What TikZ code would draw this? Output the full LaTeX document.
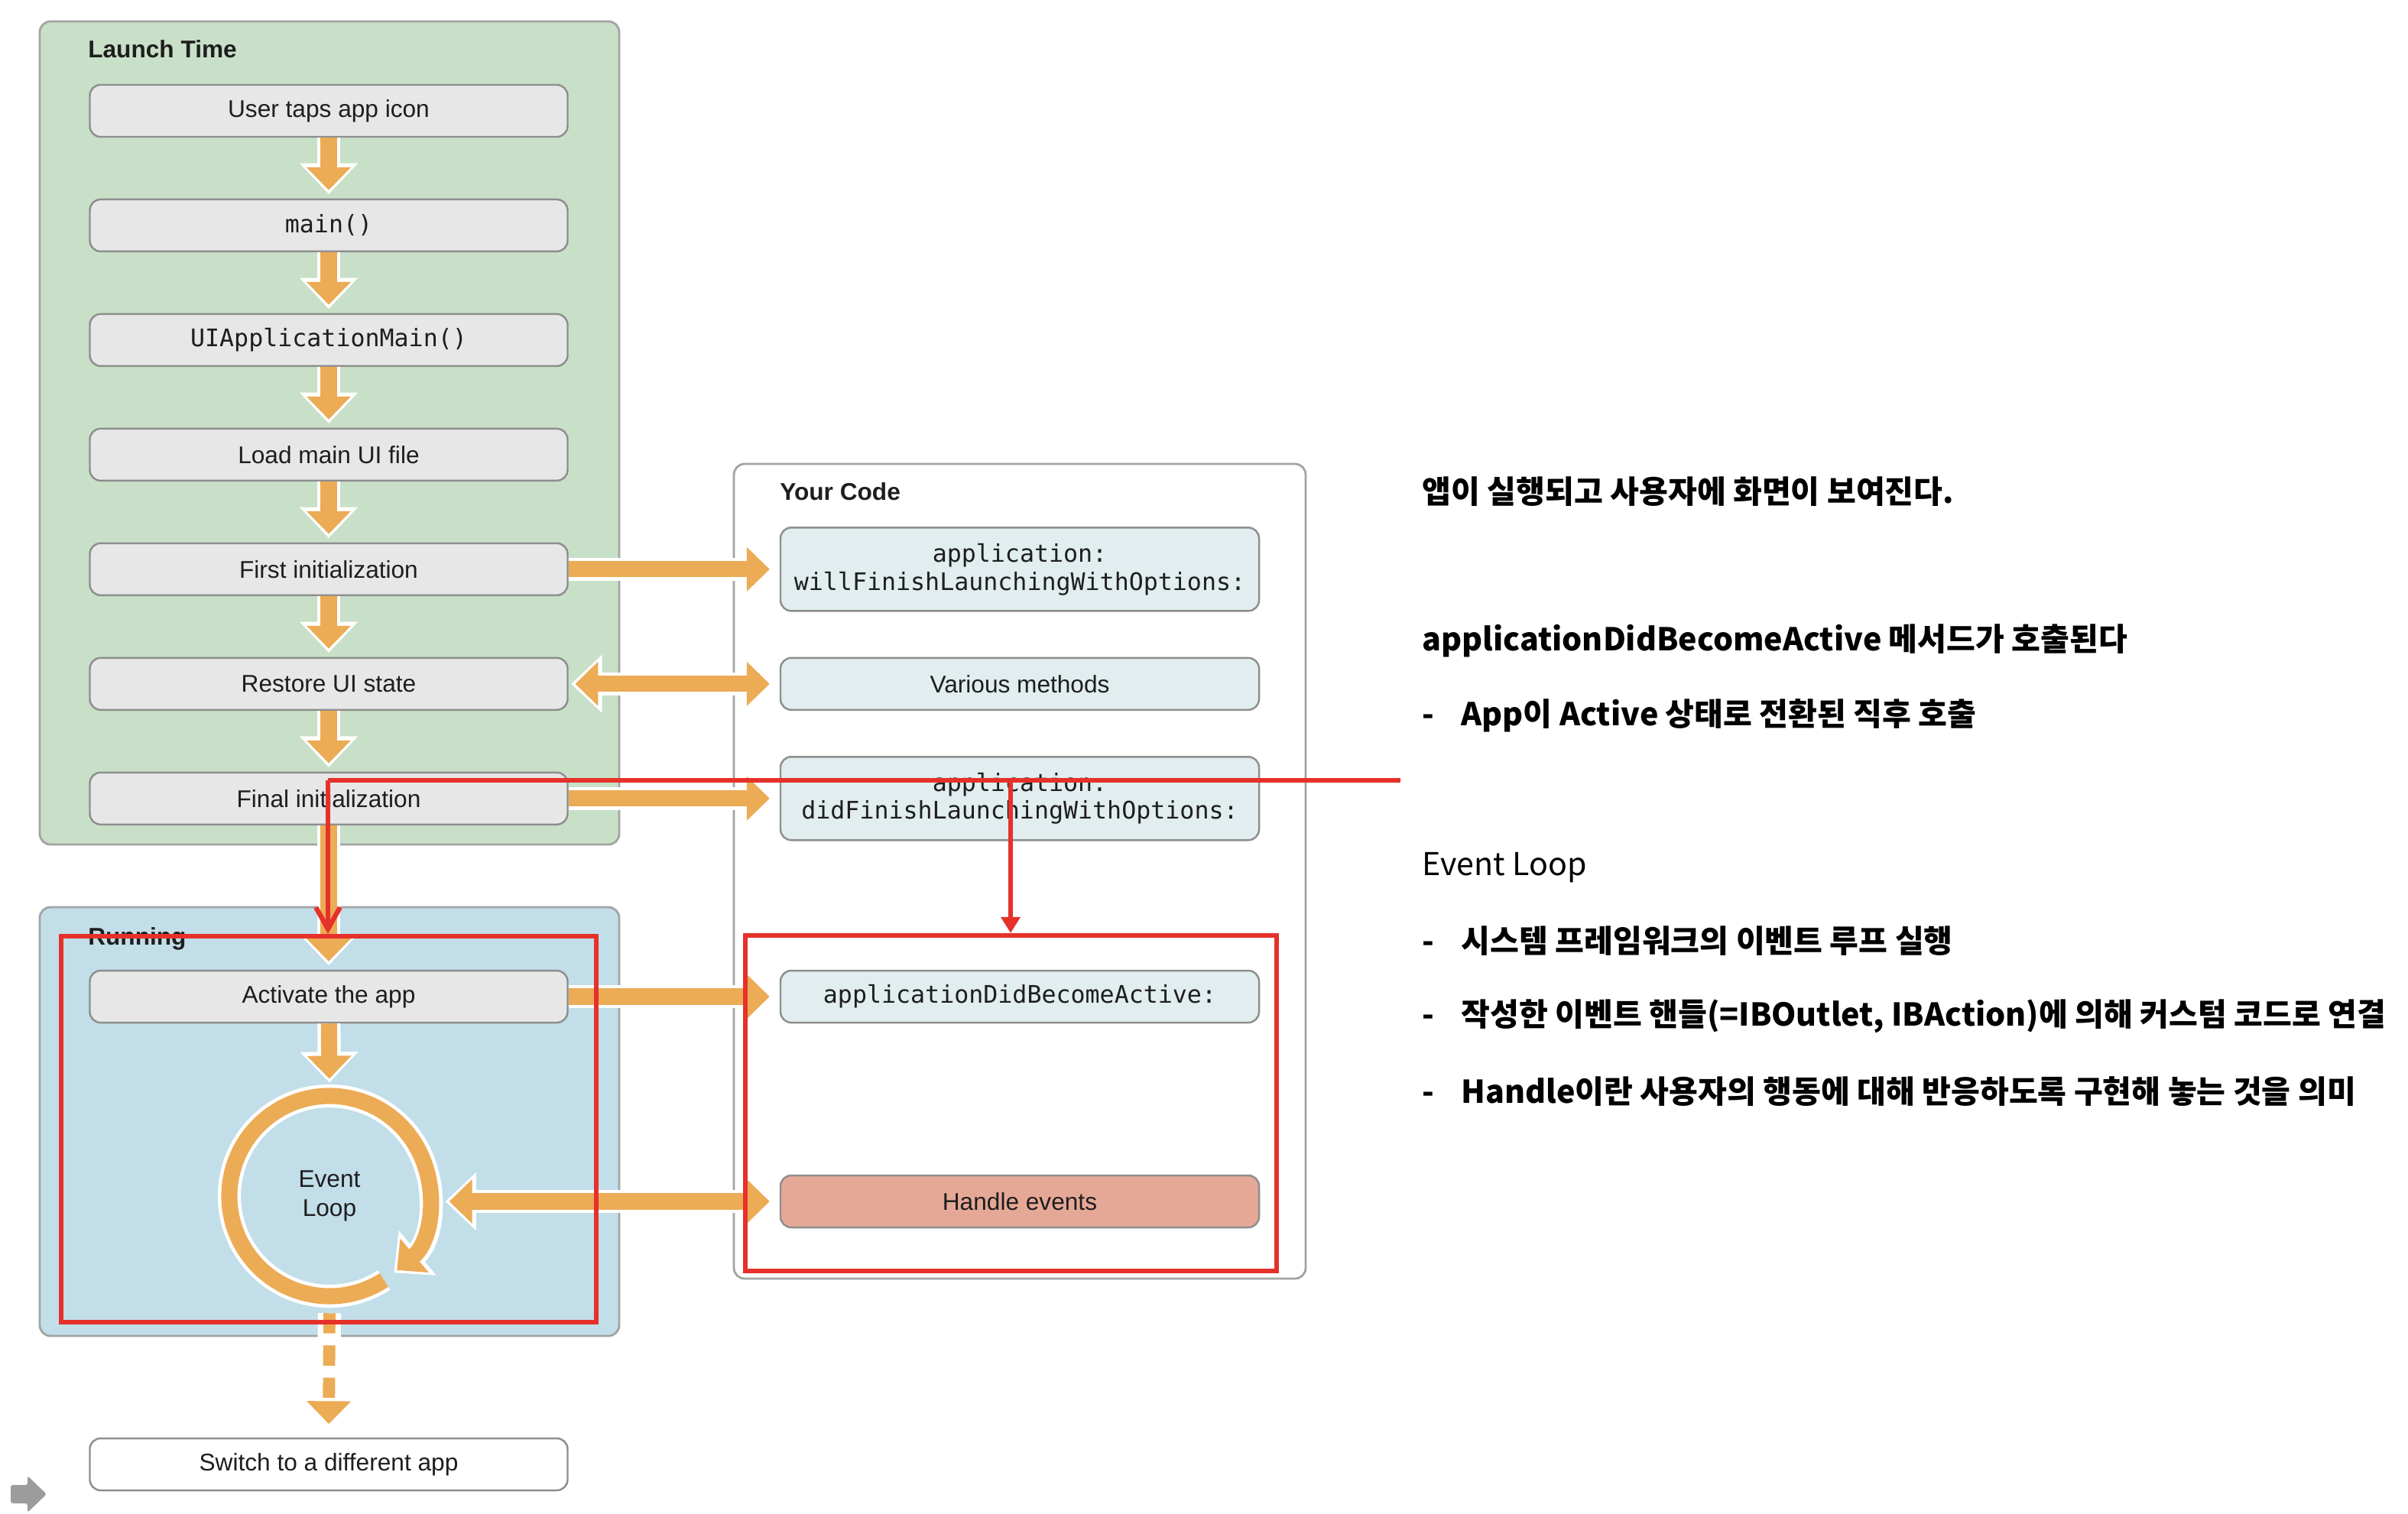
\documentclass[tikz,border=0pt]{standalone}
\usepackage{fontspec}
\setmainfont{Liberation Sans}
\setmonofont{DejaVu Sans Mono}
\newfontfamily\kofont{Noto Sans CJK KR}
\usepackage{tikz}
\usetikzlibrary{arrows.meta, positioning}

\definecolor{launchbg}{HTML}{C8E0C8}
\definecolor{runbg}{HTML}{C1DEE9}
\definecolor{panelline}{HTML}{A3A3A3}
\definecolor{boxline}{HTML}{8E8E8E}
\definecolor{stepbg}{HTML}{E6E7E6}
\definecolor{codebg}{HTML}{E1EDEF}
\definecolor{handlebg}{HTML}{E6A896}
\definecolor{floworange}{HTML}{ECAB55}
\definecolor{markred}{HTML}{E5312A}
\definecolor{inkgray}{HTML}{1E1E1E}
\definecolor{hintgray}{HTML}{9C9C9C}

\begin{document}
\begin{tikzpicture}[
  panel/.style={rectangle, rounded corners=4pt, draw=panelline, line width=0.8pt, inner sep=0pt},
  paneltitle/.style={anchor=west, inner sep=0pt, font=\fontsize{9}{11}\selectfont\bfseries, text=inkgray},
  stepbox/.style={rectangle, rounded corners=4pt, draw=boxline, line width=0.7pt, fill=stepbg, minimum width=6.25cm, minimum height=0.68cm, inner sep=2pt, align=center, text=inkgray, font=\fontsize{9}{10.5}\selectfont},
  codebox/.style={stepbox, fill=codebg, minimum width=6.26cm},
  mono/.style={font=\ttfamily\fontsize{9}{10.5}\selectfont},
  flowhead/.tip={Triangle[width=16pt, length=8.5pt, sep=1.5pt]},
  haloflowhead/.tip={Triangle[width=21pt, length=11.5pt]},
  flow/.style={draw=floworange, line width=6pt, -{flowhead},
    preaction={draw=white, line width=8.6pt, -{haloflowhead}}},
  flowboth/.style={draw=floworange, line width=6pt, {flowhead}-{flowhead},
    preaction={draw=white, line width=8.6pt, {haloflowhead}-{haloflowhead}}},
  markline/.style={draw=markred, line width=1.8pt},
  markbox/.style={rectangle, draw=markred, line width=1.8pt, inner sep=0pt},
  kotext/.style={anchor=west, inner sep=0pt, text=black, font=\kofont\fontsize{11.7}{14}\selectfont},
  kobold/.style={kotext, font=\kofont\bfseries\fontsize{11.7}{14}\selectfont}
]
\path[use as bounding box, fill=white] (0,0) rectangle (31.5,-19.8);

% panels
\node[panel, fill=launchbg, minimum width=7.58cm, minimum height=10.77cm] (launch) at (4.31,-5.665) {};
\node[panel, fill=runbg, minimum width=7.58cm, minimum height=5.61cm] (running) at (4.31,-14.675) {};
\node[panel, fill=white, minimum width=7.48cm, minimum height=10.66cm] (yourcode) at (13.34,-11.40) {};
\node[paneltitle] (launchtitle) at ([shift={(0.64,-0.38)}]launch.north west) {Launch Time};
\node[paneltitle] (runtitle) at ([shift={(0.64,-0.43)}]running.north west) {Running};
\node[paneltitle] (codetitle) at ([shift={(0.61,-0.38)}]yourcode.north west) {Your Code};

% launch steps
\node[stepbox] (tap) at (4.30,-1.45) {User taps app icon};
\node[stepbox, mono, below=0.795cm of tap] (mainfn) {main()};
\node[stepbox, mono, below=0.795cm of mainfn] (uimain) {UIApplicationMain()};
\node[stepbox, below=0.795cm of uimain] (loadui) {Load main UI file};
\node[stepbox, below=0.795cm of loadui] (firstinit) {First initialization};
\node[stepbox, below=0.795cm of firstinit] (restore) {Restore UI state};
\node[stepbox, below=0.795cm of restore] (finalinit) {Final initialization};

% running
\node[stepbox] (activate) at (4.30,-13.04) {Activate the app};
\node[circle, minimum size=2.84cm, inner sep=0pt, align=center, text=inkgray, font=\fontsize{9}{10.8}\selectfont] (loop) at (4.31,-15.65) {Event\\Loop};
\node[stepbox, fill=white] (switch) at (4.30,-19.16) {Switch to a different app};

% your code
\node[codebox, mono, minimum height=1.09cm] (willfinish) at (firstinit -| 13.34,0) {application:\\willFinishLaunchingWithOptions:};
\node[codebox] (various) at (restore -| 13.34,0) {Various methods};
\node[codebox, mono, minimum height=1.09cm] (didfinish) at (finalinit -| 13.34,0) {application:\\didFinishLaunchingWithOptions:};
\node[codebox, mono] (didactive) at (activate -| 13.34,0) {applicationDidBecomeActive:};
\node[codebox, fill=handlebg] (handle) at (13.34,-15.72) {Handle events};

% flow arrows
\draw[flow, shorten >=1.6pt] (tap) -- (mainfn);
\draw[flow, shorten >=1.6pt] (mainfn) -- (uimain);
\draw[flow, shorten >=1.6pt] (uimain) -- (loadui);
\draw[flow, shorten >=1.6pt] (loadui) -- (firstinit);
\draw[flow, shorten >=1.6pt] (firstinit) -- (restore);
\draw[flow, shorten >=1.6pt] (restore) -- (finalinit);
\draw[flow, shorten >=1.6pt] (finalinit) -- (activate);
\draw[flow, shorten >=1.6pt] (activate) -- (loop.north);
\draw[flow] ([shift={(-57:1.31)}]loop.center) arc[start angle=-57, end angle=-410, radius=1.31cm];
\draw[flow, line width=4.5pt, dash pattern=on 7.5pt off 4.5pt, shorten <=3pt, shorten >=3.5pt] (loop.south) -- (switch.north);
\draw[flow, shorten >=2.2pt] (firstinit.east) -- (willfinish.west);
\draw[flowboth, shorten <=1pt, shorten >=2.2pt] (restore.east) -- (various.west);
\draw[flow, shorten >=2.2pt] (finalinit.east) -- (didfinish.west);
\draw[flow, shorten >=2.2pt] (activate.east) -- (didactive.west);
\draw[flowboth, shorten <=2.5pt, shorten >=2.2pt] (handle.west -| loop.east) -- (handle.west);

% hint arrow
\fill[hintgray, rounded corners=0.8pt] (0.14,-19.43) -- (0.36,-19.43) -- (0.36,-19.31) -- (0.61,-19.55) -- (0.36,-19.79) -- (0.36,-19.67) -- (0.14,-19.67) -- cycle;

% red marks
\node[markbox, minimum width=7.00cm, minimum height=5.05cm] (markA) at (4.30,-14.775) {};
\node[markbox, minimum width=6.95cm, minimum height=4.39cm] (markB) at (13.225,-14.435) {};
\coordinate (redR) at (18.32,-10.21);
\coordinate (redL) at (4.29,-10.21);
\coordinate (redM) at (13.22,-10.21);
\draw[markline] (redR) -- (redL);
\draw[markline, -{Straight Barb[length=8pt, width=9pt]}] (redL) -- (redL |- markA.north);
\draw[markline, -{Triangle[length=6pt, width=7pt]}] (redM) -- (redM |- markB.north);

% notes
\node[kobold] (launchnote) at (18.60,-6.43) {앱이 실행되고 사용자에 화면이 보여진다.};
\node[kobold] (activenote) at (18.60,-8.38) {applicationDidBecomeActive 메서드가 호출된다};
\node[kobold] (activeitem) at (18.60,-9.36) {\makebox[0.51cm][l]{-}App이 Active 상태로 전환된 직후 호출};
\node[kotext] (loopnote) at (18.60,-11.35) {Event Loop};
\node[kobold] (loopitemA) at (18.60,-12.31) {\makebox[0.51cm][l]{-}시스템 프레임워크의 이벤트 루프 실행};
\node[kobold] (loopitemB) at (18.60,-13.30) {\makebox[0.51cm][l]{-}작성한 이벤트 핸들(=IBOutlet, IBAction)에 의해 커스텀 코드로 연결};
\node[kobold] (loopitemC) at (18.60,-14.28) {\makebox[0.51cm][l]{-}Handle이란 사용자의 행동에 대해 반응하도록 구현해 놓는 것을 의미};
\end{tikzpicture}
\end{document}
